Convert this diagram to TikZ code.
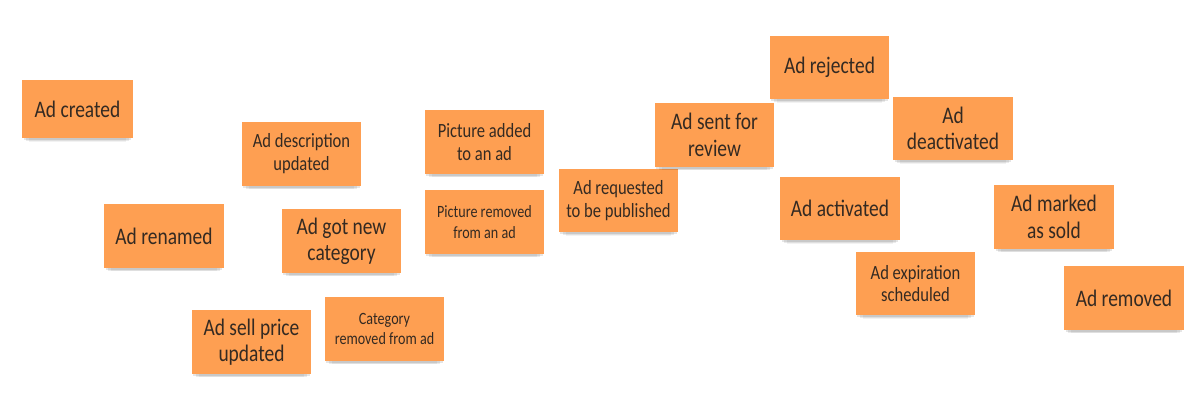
\documentclass[tikz,border=0pt]{standalone}
\usepackage{fontspec}
\newfontfamily\notefont[FakeStretch=0.82]{Carlito}
\usepackage{xcolor}
\usepackage{tikz}
\usetikzlibrary{shadows}

\definecolor{stickyorange}{RGB}{254,159,82}
\definecolor{inkbrown}{RGB}{52,42,34}

\begin{document}
\begin{tikzpicture}[
        x=0.02cm, y=-0.02cm,
        sticky/.style={rectangle, fill=stickyorange, text=inkbrown,
                       minimum width=2.4cm, minimum height=1.28cm,
                       inner sep=1pt, align=center,
                       drop shadow={shadow xshift=0pt, shadow yshift=-1.5pt,
                                    shadow scale=0.97, opacity=0.10, fill=black},
                       drop shadow={shadow xshift=0pt, shadow yshift=-3pt,
                                    shadow scale=0.93, opacity=0.08, fill=black},
                       drop shadow={shadow xshift=0pt, shadow yshift=-4.5pt,
                                    shadow scale=0.88, opacity=0.05, fill=black}},
        txtbig/.style={font=\notefont\fontsize{13.5}{15}\selectfont},
        txtmid/.style={font=\notefont\fontsize{11.5}{13}\selectfont},
        txtsmall/.style={font=\notefont\fontsize{9.8}{11.5}\selectfont}
    ]
        \useasboundingbox (0,0) rectangle (1201,419);

        % left column
        \node[sticky, txtbig, minimum width=2.22cm, minimum height=1.18cm]
            (created) at (77.5,109) {Ad created};
        \node[sticky, txtbig] (renamed) at (164,236) {Ad renamed};
        \node[sticky, txtbig] (sellprice) at (251.5,342) {Ad sell price\\updated};
        \node[sticky, txtmid] (description) at (301.5,154) {Ad description\\updated};
        \node[sticky, txtbig] (newcategory) at (341.5,241) {Ad got new\\category};
        \node[sticky, txtsmall] (catremoved) at (384.5,329) {Category\\removed from ad};

        % pictures
        \node[sticky, txtmid] (picadded) at (484.5,142) {Picture added\\to an ad};
        \node[sticky, txtsmall] (picremoved) at (484.5,222) {Picture removed\\from an ad};

        % publishing
        \node[sticky, txtmid] (requested) at (618.5,200.5) {Ad requested\\to be published};
        \node[sticky, txtbig] (review) at (714.5,135) {Ad sent for\\review};
        \node[sticky, txtbig] (rejected) at (829.5,67.5) {Ad rejected};
        \node[sticky, txtbig] (activated) at (840,208.5) {Ad activated};
        \node[sticky, txtmid] (expiration) at (915.5,283.5) {Ad expiration\\scheduled};
        \node[sticky, txtbig] (deactivated) at (953,128.5) {Ad\\deactivated};
        \node[sticky, txtbig] (sold) at (1054,217) {Ad marked\\as sold};
        \node[sticky, txtbig] (removed) at (1124,298) {Ad removed};
    \end{tikzpicture}
\end{document}
